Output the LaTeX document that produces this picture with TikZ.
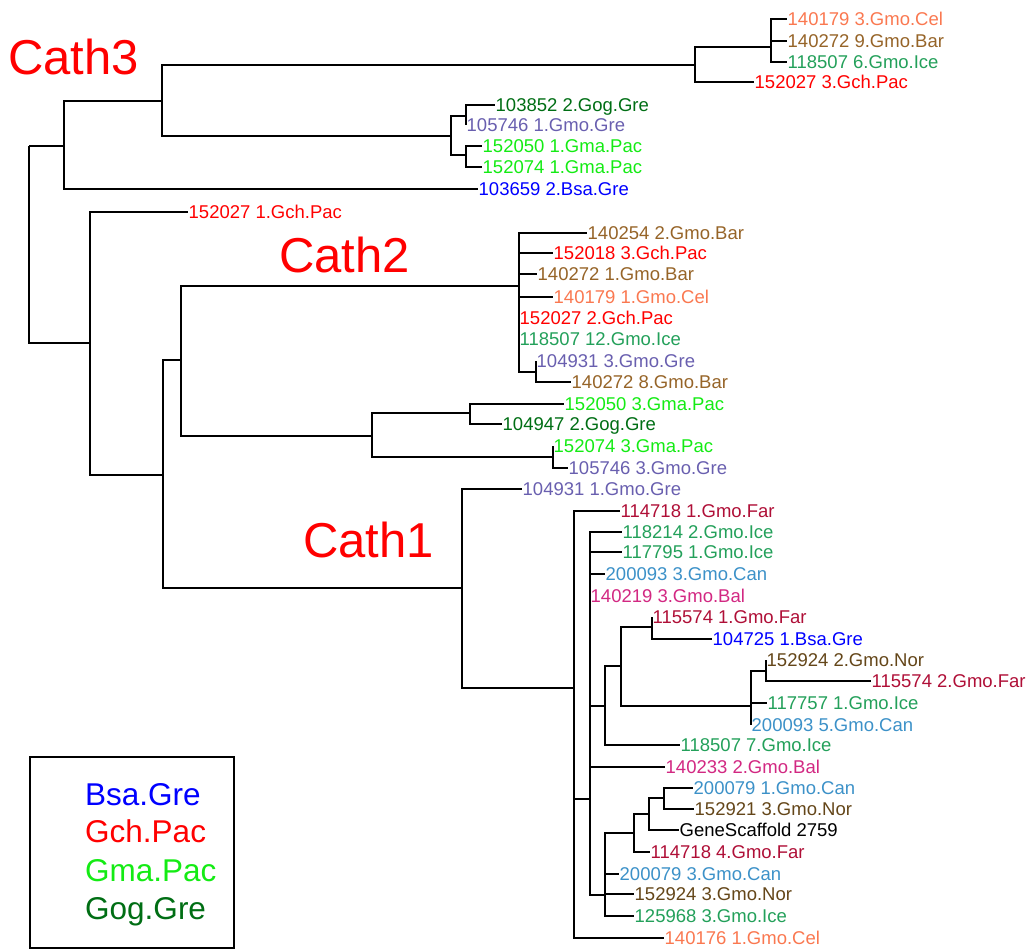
\documentclass[tikz,border=0pt]{standalone}
\usepackage{fontspec}
\setmainfont{Liberation Sans}
\usepackage{tikz}

\definecolor{cel}{RGB}{250,120,80}
\definecolor{bar}{RGB}{150,100,40}
\definecolor{ice}{RGB}{35,160,90}
\definecolor{gch}{RGB}{255,0,0}
\definecolor{gog}{RGB}{0,110,20}
\definecolor{gre}{RGB}{105,95,175}
\definecolor{gma}{RGB}{20,235,20}
\definecolor{bsa}{RGB}{0,0,255}
\definecolor{far}{RGB}{175,15,55}
\definecolor{can}{RGB}{60,145,200}
\definecolor{bal}{RGB}{210,40,130}
\definecolor{nor}{RGB}{100,70,25}

\begin{document}
\begin{tikzpicture}[
  x=1pt, y=-1pt,
  leaf/.style={anchor=west, inner xsep=0.5pt, inner ysep=0pt,
               text height=13pt, text depth=0pt,
               font=\fontsize{18.5}{20}\selectfont},
  br/.style={line width=1.8pt},
  clade/.style={anchor=base west, inner sep=0pt, text=red,
                font=\fontsize{49}{52}\selectfont},
  key/.style={anchor=base west, inner sep=0pt,
              font=\fontsize{31.5}{34}\selectfont}
]
\useasboundingbox (0,0) rectangle (1027,948);

%% internal nodes (x of the split, y where the parent joins)
\coordinate (root) at (29,146);
\coordinate (n3)   at (64,146);
\coordinate (nA)   at (162,101);
\coordinate (nB)   at (695,65);
\coordinate (nB1)  at (771,47);
\coordinate (nC)   at (451,136);
\coordinate (nC1)  at (466,116);
\coordinate (nC2)  at (466,155);
\coordinate (nR)   at (90,343);
\coordinate (nS)   at (163,475);
\coordinate (n2)   at (181,360);
\coordinate (nD)   at (519,286);
\coordinate (nD2)  at (536,372);
\coordinate (nE)   at (372,436);
\coordinate (nE1)  at (470,413);
\coordinate (nE2)  at (553,457);
\coordinate (n1)   at (462,588);
\coordinate (nF)   at (574,688);
\coordinate (nG)   at (590,799);
\coordinate (nL)   at (605,706);
\coordinate (nM)   at (621,666);
\coordinate (nN)   at (652,627);
\coordinate (nO)   at (751,706);
\coordinate (nP)   at (766,671);
\coordinate (nH)   at (605,895);
\coordinate (nI)   at (634,833);
\coordinate (nJ)   at (649,814);
\coordinate (nK)   at (664,798);

%% Cath3 leaves
\node[leaf, text=cel] (t140179-3)  at (787,19)  {140179 3.Gmo.Cel};
\node[leaf, text=bar] (t140272-9)  at (787,41)  {140272 9.Gmo.Bar};
\node[leaf, text=ice] (t118507-6)  at (787,62)  {118507 6.Gmo.Ice};
\node[leaf, text=gch] (t152027-3)  at (754,82)  {152027 3.Gch.Pac};
\node[leaf, text=gog] (t103852-2)  at (495,105) {103852 2.Gog.Gre};
\node[leaf, text=gre] (t105746-1)  at (466,125) {105746 1.Gmo.Gre};
\node[leaf, text=gma] (t152050-1)  at (482,146) {152050 1.Gma.Pac};
\node[leaf, text=gma] (t152074-1)  at (482,167) {152074 1.Gma.Pac};
\node[leaf, text=bsa] (t103659-2)  at (478,189) {103659 2.Bsa.Gre};
\node[leaf, text=gch] (t152027-1)  at (188,212) {152027 1.Gch.Pac};

%% Cath2 leaves
\node[leaf, text=bar] (t140254-2)  at (587,233) {140254 2.Gmo.Bar};
\node[leaf, text=gch] (t152018-3)  at (553,253) {152018 3.Gch.Pac};
\node[leaf, text=bar] (t140272-1)  at (537,274) {140272 1.Gmo.Bar};
\node[leaf, text=cel] (t140179-1)  at (553,297) {140179 1.Gmo.Cel};
\node[leaf, text=gch] (t152027-2)  at (519,318) {152027 2.Gch.Pac};
\node[leaf, text=ice] (t118507-12) at (519,339) {118507 12.Gmo.Ice};
\node[leaf, text=gre] (t104931-3)  at (536,361) {104931 3.Gmo.Gre};
\node[leaf, text=bar] (t140272-8)  at (571,382) {140272 8.Gmo.Bar};
\node[leaf, text=gma] (t152050-3)  at (564,404) {152050 3.Gma.Pac};
\node[leaf, text=gog] (t104947-2)  at (502,424) {104947 2.Gog.Gre};
\node[leaf, text=gma] (t152074-3)  at (553,446) {152074 3.Gma.Pac};
\node[leaf, text=gre] (t105746-3)  at (568,468) {105746 3.Gmo.Gre};

%% Cath1 leaves
\node[leaf, text=gre] (t104931-1)  at (522,489) {104931 1.Gmo.Gre};
\node[leaf, text=far] (t114718-1)  at (620,511) {114718 1.Gmo.Far};
\node[leaf, text=ice] (t118214-2)  at (622,532) {118214 2.Gmo.Ice};
\node[leaf, text=ice] (t117795-1)  at (622,552) {117795 1.Gmo.Ice};
\node[leaf, text=can] (t200093-3)  at (605,574) {200093 3.Gmo.Can};
\node[leaf, text=bal] (t140219-3)  at (590,596) {140219 3.Gmo.Bal};
\node[leaf, text=far] (t115574-1)  at (652,617) {115574 1.Gmo.Far};
\node[leaf, text=bsa] (t104725-1)  at (712,639) {104725 1.Bsa.Gre};
\node[leaf, text=nor] (t152924-2)  at (766,660) {152924 2.Gmo.Nor};
\node[leaf, text=far] (t115574-2)  at (871,681) {115574 2.Gmo.Far};
\node[leaf, text=ice] (t117757-1)  at (767,703) {117757 1.Gmo.Ice};
\node[leaf, text=can] (t200093-5)  at (751,725) {200093 5.Gmo.Can};
\node[leaf, text=ice] (t118507-7)  at (680,745) {118507 7.Gmo.Ice};
\node[leaf, text=bal] (t140233-2)  at (665,767) {140233 2.Gmo.Bal};
\node[leaf, text=can] (t200079-1)  at (693,788) {200079 1.Gmo.Can};
\node[leaf, text=nor] (t152921-3)  at (694,809) {152921 3.Gmo.Nor};
\node[leaf]           (tgs2759)    at (679,830) {GeneScaffold 2759};
\node[leaf, text=far] (t114718-4)  at (650,852) {114718 4.Gmo.Far};
\node[leaf, text=can] (t200079-3)  at (619,874) {200079 3.Gmo.Can};
\node[leaf, text=nor] (t152924-3)  at (634,894) {152924 3.Gmo.Nor};
\node[leaf, text=ice] (t125968-3)  at (634,916) {125968 3.Gmo.Ice};
\node[leaf, text=cel] (t140176-1)  at (664,938) {140176 1.Gmo.Cel};

%% branches between internal nodes
\foreach \p/\c in {root/n3, root/nR, n3/nA, nA/nB, nB/nB1, nA/nC,
                   nC/nC1, nC/nC2, nR/nS, nS/n2, n2/nD, nD/nD2,
                   n2/nE, nE/nE1, nE/nE2, nS/n1, n1/nF, nF/nG,
                   nG/nL, nL/nM, nM/nN, nM/nO, nO/nP, nG/nH,
                   nH/nI, nI/nJ, nJ/nK}
  \draw[br] (\p) |- (\c);

%% branches to the leaves
\foreach \p/\c in {nB1/t140179-3, nB1/t140272-9, nB1/t118507-6,
                   nB/t152027-3, nC1/t103852-2, nC1/t105746-1,
                   nC2/t152050-1, nC2/t152074-1, n3/t103659-2,
                   nR/t152027-1,
                   nD/t140254-2, nD/t152018-3, nD/t140272-1,
                   nD/t140179-1, nD/t152027-2, nD/t118507-12,
                   nD2/t104931-3, nD2/t140272-8, nE1/t152050-3,
                   nE1/t104947-2, nE2/t152074-3, nE2/t105746-3,
                   n1/t104931-1, nF/t114718-1, nG/t118214-2,
                   nG/t117795-1, nG/t200093-3, nG/t140219-3,
                   nN/t115574-1, nN/t104725-1, nP/t152924-2,
                   nP/t115574-2, nO/t117757-1, nO/t200093-5,
                   nL/t118507-7, nG/t140233-2, nK/t200079-1,
                   nK/t152921-3, nJ/tgs2759, nI/t114718-4,
                   nH/t200079-3, nH/t152924-3, nH/t125968-3,
                   nF/t140176-1}
  \draw[br] (\p) |- (\c.west);

%% clade names
\node[clade] (cath3) at (8,74)    {Cath3};
\node[clade] (cath2) at (279,272) {Cath2};
\node[clade] (cath1) at (303,557) {Cath1};

%% legend
\node[draw, line width=1.5pt, anchor=north west,
      minimum width=204pt, minimum height=191pt] (legend) at (29,756) {};
\node[key, text=bsa] (kbsa) at (85,805) {Bsa.Gre};
\node[key, text=gch] (kgch) at (85,842) {Gch.Pac};
\node[key, text=gma] (kgma) at (85,881) {Gma.Pac};
\node[key, text=gog] (kgog) at (85,919) {Gog.Gre};

\end{tikzpicture}
\end{document}
